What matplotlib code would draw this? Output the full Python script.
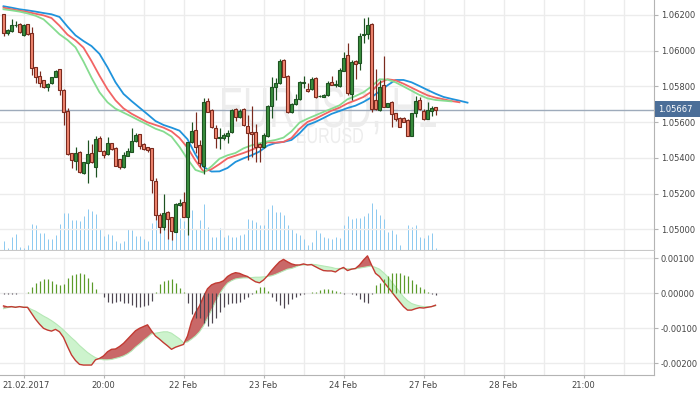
import matplotlib
matplotlib.use("Agg")
import matplotlib.pyplot as plt
import numpy as np
from matplotlib.patches import Rectangle, PathPatch
from matplotlib.textpath import TextPath
from matplotlib.transforms import Affine2D, ScaledTranslation
from matplotlib.font_manager import FontProperties

# EURUSD H1 bars, index 0 = first visible bar
opens = [1.06206, 1.06097, 1.06109, 1.06142, 1.06150, 1.06086, 1.06148, 1.06097, 1.05907, 1.05858,
         1.05836, 1.05795, 1.05817, 1.05855, 1.05896, 1.05780, 1.05662, 1.05425, 1.05384, 1.05433,
         1.05313, 1.05369, 1.05425, 1.05347, 1.05511, 1.05440, 1.05421, 1.05481, 1.05455, 1.05392,
         1.05347, 1.05412, 1.05434, 1.05494, 1.05532, 1.05477, 1.05461, 1.05453, 1.05268, 1.05078,
         1.05014, 1.05097, 1.05067, 1.04986, 1.05134, 1.05153, 1.05071, 1.05487, 1.05556, 1.05472,
         1.05356, 1.05718, 1.05668, 1.05569, 1.05511, 1.05513, 1.05524, 1.05543, 1.05673, 1.05627,
         1.05672, 1.05578, 1.05545, 1.05545, 1.05477, 1.05459, 1.05524, 1.05690, 1.05795, 1.05817,
         1.05946, 1.05860, 1.05659, 1.05702, 1.05728, 1.05821, 1.05784, 1.05784, 1.05849, 1.05746,
         1.05743, 1.05750, 1.05825, 1.05806, 1.05802, 1.05888, 1.05976, 1.05757, 1.05944, 1.05929,
         1.06086, 1.06092, 1.06150, 1.05724, 1.05668, 1.05808, 1.05687, 1.05715, 1.05649, 1.05623,
         1.05623, 1.05612, 1.05524, 1.05649, 1.05724, 1.05662, 1.05619, 1.05662, 1.05683]
highs = [1.06206, 1.06123, 1.06176, 1.06165, 1.06153, 1.06150, 1.06150, 1.06131, 1.05911, 1.05886,
         1.05836, 1.05821, 1.05855, 1.05892, 1.05899, 1.05784, 1.05677, 1.05429, 1.05459, 1.05436,
         1.05379, 1.05500, 1.05477, 1.05522, 1.05522, 1.05444, 1.05519, 1.05485, 1.05459, 1.05396,
         1.05434, 1.05453, 1.05565, 1.05537, 1.05535, 1.05481, 1.05463, 1.05457, 1.05285, 1.05089,
         1.05197, 1.05104, 1.05071, 1.05144, 1.05168, 1.05207, 1.05491, 1.05599, 1.05659, 1.05500,
         1.05733, 1.05737, 1.05672, 1.05584, 1.05565, 1.05541, 1.05556, 1.05672, 1.05677, 1.05672,
         1.05677, 1.05642, 1.05690, 1.05589, 1.05485, 1.05537, 1.05694, 1.05851, 1.05845, 1.05952,
         1.05952, 1.05864, 1.05705, 1.05757, 1.05830, 1.05858, 1.05817, 1.05855, 1.05855, 1.05752,
         1.05756, 1.05832, 1.05858, 1.05836, 1.05902, 1.05995, 1.06045, 1.05948, 1.05948, 1.06101,
         1.06181, 1.06187, 1.06153, 1.05896, 1.05836, 1.05970, 1.05709, 1.05720, 1.05653, 1.05627,
         1.05627, 1.05616, 1.05653, 1.05748, 1.05743, 1.05675, 1.05713, 1.05690, 1.05687]
lows = [1.06082, 1.06090, 1.06105, 1.06131, 1.06099, 1.06082, 1.06088, 1.05864, 1.05817, 1.05795,
        1.05791, 1.05776, 1.05814, 1.05851, 1.05750, 1.05586, 1.05418, 1.05341, 1.05332, 1.05315,
        1.05309, 1.05261, 1.05369, 1.05291, 1.05436, 1.05397, 1.05418, 1.05444, 1.05353, 1.05339,
        1.05343, 1.05408, 1.05430, 1.05490, 1.05448, 1.05446, 1.05433, 1.05205, 1.05052, 1.04977,
        1.04996, 1.04947, 1.04940, 1.04982, 1.05130, 1.05067, 1.04966, 1.05481, 1.05425, 1.05351,
        1.05309, 1.05655, 1.05565, 1.05453, 1.05448, 1.05500, 1.05481, 1.05537, 1.05608, 1.05623,
        1.05578, 1.05388, 1.05407, 1.05379, 1.05379, 1.05453, 1.05519, 1.05621, 1.05724, 1.05814,
        1.05851, 1.05649, 1.05649, 1.05696, 1.05724, 1.05789, 1.05770, 1.05780, 1.05733, 1.05739,
        1.05739, 1.05746, 1.05806, 1.05795, 1.05799, 1.05884, 1.05752, 1.05724, 1.05840, 1.05892,
        1.06041, 1.06064, 1.05657, 1.05668, 1.05664, 1.05683, 1.05683, 1.05575, 1.05608, 1.05571,
        1.05599, 1.05520, 1.05520, 1.05631, 1.05668, 1.05612, 1.05616, 1.05634, 1.05640]
closes = [1.06097, 1.06116, 1.06142, 1.06146, 1.06103, 1.06146, 1.06092, 1.05901, 1.05851, 1.05821,
          1.05795, 1.05814, 1.05851, 1.05886, 1.05780, 1.05655, 1.05421, 1.05388, 1.05429, 1.05319,
          1.05375, 1.05420, 1.05377, 1.05504, 1.05440, 1.05416, 1.05481, 1.05448, 1.05356, 1.05347,
          1.05416, 1.05438, 1.05494, 1.05528, 1.05468, 1.05449, 1.05444, 1.05276, 1.05078, 1.05014,
          1.05089, 1.05059, 1.04990, 1.05140, 1.05149, 1.05071, 1.05487, 1.05550, 1.05463, 1.05373,
          1.05711, 1.05659, 1.05571, 1.05509, 1.05519, 1.05528, 1.05541, 1.05668, 1.05627, 1.05662,
          1.05582, 1.05541, 1.05532, 1.05463, 1.05459, 1.05528, 1.05690, 1.05795, 1.05817, 1.05942,
          1.05855, 1.05659, 1.05702, 1.05730, 1.05825, 1.05827, 1.05774, 1.05842, 1.05739, 1.05748,
          1.05750, 1.05817, 1.05810, 1.05814, 1.05892, 1.05959, 1.05765, 1.05935, 1.05924, 1.06082,
          1.06094, 1.06144, 1.05672, 1.05672, 1.05799, 1.05687, 1.05705, 1.05644, 1.05616, 1.05575,
          1.05603, 1.05524, 1.05649, 1.05718, 1.05672, 1.05616, 1.05668, 1.05679, 1.05667]
volumes = [9, 2, 13, 16, 3, 2, 5, 26, 25, 17, 17, 11, 11, 15, 26, 37, 37, 30, 30, 29,
           34, 41, 39, 36, 21, 14, 16, 15, 9, 7, 9, 21, 20, 14, 14, 11, 9, 27, 30, 29,
           27, 20, 27, 30, 32, 29, 20, 40, 21, 30, 46, 23, 13, 13, 22, 13, 15, 13, 13, 15,
           16, 31, 30, 28, 25, 25, 41, 45, 38, 38, 35, 25, 21, 17, 15, 11, 5, 8, 20, 17,
           13, 12, 11, 13, 12, 25, 34, 31, 32, 32, 34, 37, 47, 41, 35, 31, 18, 20, 16, 5,
           0, 25, 23, 25, 13, 12, 15, 17, 2]

# Alligator (read every second bar, lines run ahead of price)
jaw = [1.06249, 1.06241, 1.06232, 1.06226, 1.06219, 1.06211, 1.06204, 1.06189, 1.06135, 1.06086,
       1.06054, 1.06026, 1.05982, 1.05907, 1.05823, 1.05758, 1.05718, 1.05681, 1.05644, 1.05606,
       1.05584, 1.05569, 1.05552, 1.05504, 1.05418, 1.05349, 1.05323, 1.05324, 1.05343, 1.05377,
       1.05397, 1.05414, 1.05435, 1.05468, 1.05483, 1.05489, 1.05500, 1.05537, 1.05584, 1.05601,
       1.05623, 1.05646, 1.05662, 1.05679, 1.05692, 1.05713, 1.05739, 1.05772, 1.05806, 1.05836,
       1.05836, 1.05823, 1.05802, 1.05780, 1.05759, 1.05741, 1.05730, 1.05720, 1.05709]
teeth = [1.06241, 1.06232, 1.06224, 1.06217, 1.06207, 1.06198, 1.06183, 1.06140, 1.06090, 1.06058,
         1.06017, 1.05942, 1.05860, 1.05784, 1.05722, 1.05677, 1.05647, 1.05623, 1.05599, 1.05584,
         1.05569, 1.05548, 1.05511, 1.05457, 1.05384, 1.05323, 1.05336, 1.05365, 1.05397, 1.05412,
         1.05427, 1.05444, 1.05463, 1.05487, 1.05485, 1.05489, 1.05511, 1.05562, 1.05601, 1.05619,
         1.05642, 1.05664, 1.05681, 1.05705, 1.05722, 1.05741, 1.05771, 1.05819, 1.05840, 1.05834,
         1.05815, 1.05793, 1.05771, 1.05750, 1.05737, 1.05728, 1.05718, 1.05711]
lips = [1.06232, 1.06226, 1.06219, 1.06209, 1.06196, 1.06176, 1.06135, 1.06092, 1.06060, 1.06019,
        1.05939, 1.05849, 1.05767, 1.05711, 1.05675, 1.05653, 1.05631, 1.05608, 1.05586, 1.05563,
        1.05547, 1.05519, 1.05461, 1.05393, 1.05332, 1.05317, 1.05352, 1.05395, 1.05414, 1.05427,
        1.05453, 1.05470, 1.05481, 1.05492, 1.05500, 1.05513, 1.05548, 1.05597, 1.05619, 1.05638,
        1.05657, 1.05675, 1.05694, 1.05728, 1.05746, 1.05767, 1.05800, 1.05840, 1.05838, 1.05823,
        1.05800, 1.05776, 1.05752, 1.05733, 1.05724, 1.05720, 1.05716]

# MACD panel
macd = [-0.00036, -0.00039, -0.00038, -0.00040, -0.00038, -0.00040, -0.00040, -0.00057, -0.00074, -0.00088,
        -0.00100, -0.00105, -0.00108, -0.00103, -0.00110, -0.00126, -0.00152, -0.00176, -0.00192, -0.00203,
        -0.00205, -0.00205, -0.00205, -0.00190, -0.00186, -0.00179, -0.00167, -0.00160, -0.00159, -0.00152,
        -0.00143, -0.00131, -0.00119, -0.00107, -0.00100, -0.00095, -0.00090, -0.00107, -0.00122, -0.00131,
        -0.00141, -0.00150, -0.00160, -0.00154, -0.00150, -0.00146, -0.00122, -0.00081, -0.00055, -0.00036,
        -0.00010, 0.00013, 0.00024, 0.00029, 0.00031, 0.00036, 0.00048, 0.00055, 0.00059, 0.00057,
        0.00052, 0.00048, 0.00040, 0.00033, 0.00030, 0.00038, 0.00050, 0.00065, 0.00078, 0.00090,
        0.00097, 0.00090, 0.00084, 0.00081, 0.00081, 0.00084, 0.00081, 0.00082, 0.00076, 0.00070,
        0.00065, 0.00064, 0.00064, 0.00061, 0.00069, 0.00074, 0.00065, 0.00069, 0.00071, 0.00081,
        0.00095, 0.00107, 0.00081, 0.00057, 0.00048, 0.00033, 0.00019, 0.00005, -0.00010, -0.00024,
        -0.00038, -0.00048, -0.00048, -0.00044, -0.00041, -0.00042, -0.00040, -0.00038, -0.00034]
signal = [-0.00044, -0.00041, -0.00039, -0.00039, -0.00038, -0.00039, -0.00040, -0.00046, -0.00051, -0.00058,
          -0.00065, -0.00071, -0.00078, -0.00086, -0.00095, -0.00105, -0.00116, -0.00127, -0.00137, -0.00149,
          -0.00159, -0.00169, -0.00177, -0.00184, -0.00188, -0.00190, -0.00190, -0.00189, -0.00186, -0.00183,
          -0.00179, -0.00173, -0.00165, -0.00154, -0.00145, -0.00135, -0.00126, -0.00116, -0.00114, -0.00112,
          -0.00110, -0.00110, -0.00114, -0.00122, -0.00130, -0.00141, -0.00139, -0.00131, -0.00122, -0.00110,
          -0.00093, -0.00071, -0.00048, -0.00024, -0.00002, 0.00015, 0.00029, 0.00036, 0.00041, 0.00043,
          0.00044, 0.00044, 0.00045, 0.00046, 0.00046, 0.00047, 0.00048, 0.00050, 0.00054, 0.00059,
          0.00064, 0.00069, 0.00071, 0.00075, 0.00080, 0.00081, 0.00082, 0.00083, 0.00082, 0.00080,
          0.00078, 0.00076, 0.00074, 0.00071, 0.00071, 0.00070, 0.00070, 0.00070, 0.00070, 0.00072,
          0.00074, 0.00076, 0.00078, 0.00074, 0.00069, 0.00059, 0.00048, 0.00033, 0.00019, 0.00005,
          -0.00010, -0.00021, -0.00029, -0.00033, -0.00036, -0.00038, -0.00038, -0.00038, -0.00036]
osma = [-0.00003, -0.00001, -0.00001, -0.00001, 0.00001, 0.00002, 0.00003, 0.00017, 0.00029, 0.00036,
        0.00042, 0.00042, 0.00036, 0.00027, 0.00024, 0.00027, 0.00043, 0.00052, 0.00055, 0.00059,
        0.00054, 0.00044, 0.00033, 0.00011, 0.00002, -0.00011, -0.00024, -0.00027, -0.00024, -0.00021,
        -0.00027, -0.00029, -0.00033, -0.00040, -0.00038, -0.00036, -0.00033, -0.00021, 0.00003, 0.00027,
        0.00034, 0.00038, 0.00040, 0.00029, 0.00014, 0.00004, -0.00029, -0.00059, -0.00071, -0.00071,
        -0.00086, -0.00093, -0.00084, -0.00071, -0.00052, -0.00038, -0.00030, -0.00027, -0.00027, -0.00025,
        -0.00017, -0.00011, -0.00003, 0.00010, 0.00019, 0.00019, 0.00008, -0.00010, -0.00021, -0.00033,
        -0.00043, -0.00030, -0.00017, -0.00010, -0.00005, -0.00002, 0.00002, 0.00003, 0.00005, 0.00010,
        0.00012, 0.00011, 0.00010, 0.00008, 0.00003, -0.00003, 0.00002, -0.00002, -0.00005, -0.00017,
        -0.00024, -0.00029, -0.00002, 0.00024, 0.00030, 0.00040, 0.00050, 0.00057, 0.00059, 0.00059,
        0.00053, 0.00050, 0.00038, 0.00027, 0.00017, 0.00011, 0.00005, -0.00002, -0.00005]

last_price = 1.05667
price_ticks = [1.050, 1.052, 1.054, 1.056, 1.058, 1.060, 1.062]
macd_ticks = [0.001, 0.0, -0.001, -0.002]
xtick_pos = [5, 25, 45, 65, 85, 105, 125, 145]
xtick_labels = ["21.02.2017", "20:00", "22 Feb", "23 Feb", "24 Feb", "27 Feb", "28 Feb", "21:00"]

W, H = 700, 394
fig = plt.figure(figsize=(W / 100, H / 100), dpi=100)
rect_p = [0, (H - 250) / H, 654 / W, 250 / H]
axv = fig.add_axes(rect_p)
ax = fig.add_axes(rect_p)
axm = fig.add_axes([0, (H - 375) / H, 654 / W, 124 / H])
ax.patch.set_visible(False)

# 4 px per bar, bar centres on pixel centres
xlim = (-0.875, 162.625)
grid_c = "#ececec"
axis_c = "#b4b4b4"
txt_c = "#444444"
px1 = 0.72  # one pixel in points

idx = np.arange(len(opens))
o = np.array(opens); c = np.array(closes)

# volume + watermark in the back
axv.set_xlim(*xlim); axv.set_ylim(0, 250); axv.axis("off")
for gx in range(5, 163, 10):
    axv.axvline(gx, color=grid_c, lw=1, zorder=0)
axv.vlines(idx, 0, volumes, color="#8ecaf0", lw=px1, zorder=2)


def watermark(s, x0, x1, ytop, ybase, size_ref="E"):
    fp = FontProperties(family="Liberation Sans")
    tp = TextPath((0, 0), s, size=1, prop=fp)
    bb = tp.get_extents()
    cap = TextPath((0, 0), size_ref, size=1, prop=fp).get_extents().y1
    sx = ((x1 - x0) / 4) / bb.width
    sy = (ybase - ytop) / cap
    tr = Affine2D().translate(-bb.x0, 0).scale(sx, sy).translate((x0 - 3.5) / 4, 250 - ybase)
    axv.add_patch(PathPatch(tr.transform_path(tp), color="#ededed", lw=0, zorder=1))


watermark("EURUSD, H1", 222, 436, 88, 127)
watermark("EURUSD", 297, 363, 128, 143)

# price panel
ax.set_xlim(*xlim)
ax.set_ylim(1.048835, 1.06284)
for t in price_ticks:
    ax.axhline(t, color=grid_c, lw=1, zorder=0)
ax.axhline(last_price, color="#9eabbb", lw=1, zorder=2)

ax.plot(range(0, 2 * len(jaw), 2), jaw, color="#1f93dc", lw=1.3, zorder=3)
ax.plot(range(0, 2 * len(teeth), 2), teeth, color="#f26464", lw=1.3, zorder=3)
ax.plot(range(0, 2 * len(lips), 2), lips, color="#86dc90", lw=1.3, zorder=3)

up = c >= o
edge = np.where(up, "#1d5221", "#7a2a1e")
fill = np.where(up, "#3a8f3e", "#f1866f")
ax.vlines(idx, lows, highs, colors=edge, lw=px1 * 1.2, zorder=4)
ax.bar(idx, np.maximum(np.abs(c - o), 0.00003), bottom=np.minimum(o, c), width=0.72,
       color=fill, edgecolor=edge, linewidth=0.8, zorder=5)

ax.yaxis.tick_right()
ax.set_yticks(price_ticks, [f"{t:.5f}" for t in price_ticks])
ax.set_xticks([])
ax.tick_params(axis="y", length=3, width=0.8, pad=2, labelsize=6, colors=axis_c, labelcolor=txt_c)
for s in ["top", "left"]:
    ax.spines[s].set_visible(False)
ax.spines["right"].set_color(axis_c)
ax.spines["bottom"].set_color("#c8c8c8")
for s in ["top", "left", "right", "bottom"]:
    axv.spines[s].set_visible(False)

# MACD panel
axm.set_xlim(*xlim)
axm.set_ylim(-0.002334, 0.001209)
for t in macd_ticks:
    axm.axhline(t, color=grid_c, lw=1, zorder=0)
for gx in range(5, 163, 10):
    axm.axvline(gx, color=grid_c, lw=1, zorder=0)
m = np.array(macd); sg = np.array(signal)
axm.fill_between(idx, m, sg, where=m >= sg, interpolate=True, color="#c96868", lw=0, zorder=2)
axm.fill_between(idx, m, sg, where=m < sg, interpolate=True, color="#cdf3cd", lw=0, zorder=2)
axm.plot(idx, sg, color="#b5e8b5", lw=0.8, zorder=3)
axm.plot(idx, m, color="#c23a32", lw=1, zorder=4)
h = np.array(osma)
axm.vlines(idx, 0, h, colors=np.where(h > 0, "#5b9b2a", "#4d4550"), lw=px1 * 1.2, zorder=5)

axm.yaxis.tick_right()
axm.set_yticks(macd_ticks, [f"{t:.5f}" for t in macd_ticks])
axm.set_xticks(xtick_pos, xtick_labels)
axm.tick_params(axis="y", length=3, width=0.8, pad=2, labelsize=6, colors=axis_c, labelcolor=txt_c)
axm.tick_params(axis="x", length=2.5, width=0.8, pad=2, labelsize=6, colors=axis_c, labelcolor=txt_c)
# first date label is pushed in from the left edge
first = axm.get_xticklabels()[0]
first.set_transform(first.get_transform() + ScaledTranslation(3 / 100, 0, fig.dpi_scale_trans))
for s in ["top", "left"]:
    axm.spines[s].set_visible(False)
axm.spines["right"].set_color(axis_c)
axm.spines["bottom"].set_color(axis_c)

# current price tag
fig.patches.append(Rectangle((655 / W, (H - 117) / H), 45 / W, 16 / H, transform=fig.transFigure,
                             facecolor="#4b6e98", edgecolor="none", zorder=10))
fig.text(658 / W, (H - 109) / H, f"{last_price:.5f}", color="white", fontsize=6, va="center",
         ha="left", zorder=11)

fig.savefig("out.png", dpi=100)
